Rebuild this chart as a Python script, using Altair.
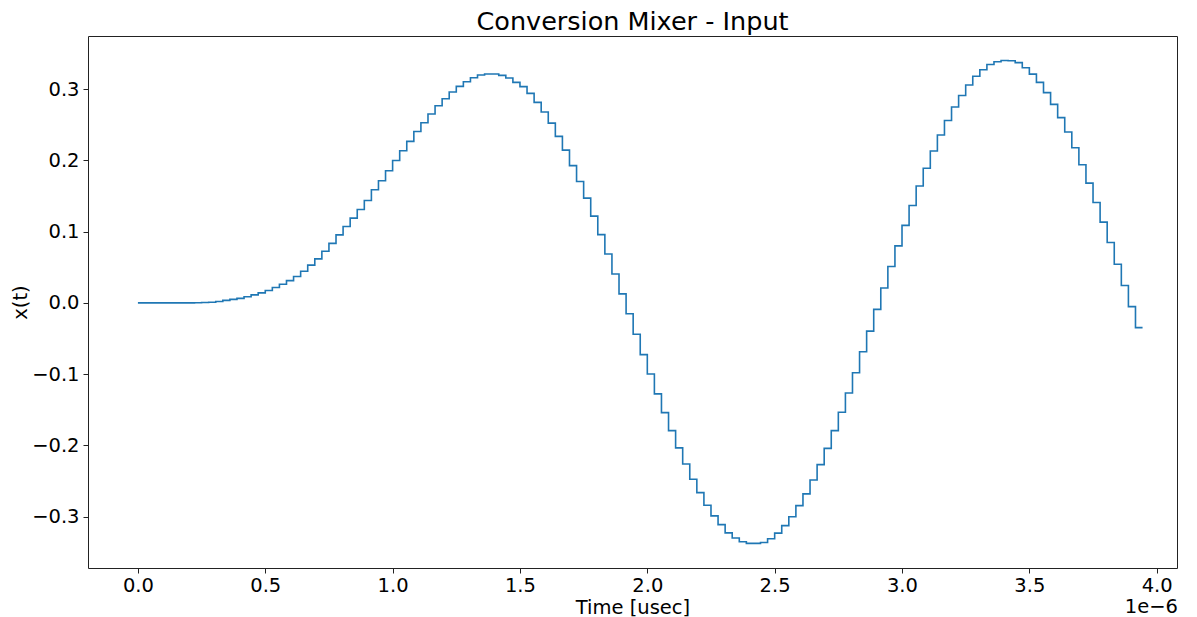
import altair as alt
import pandas as pd

DT = 0.02778

signal = [
    0.0, 0.0, 0.0, 0.0, 0.0, 0.0, 0.0, 0.0, 0.0003, 0.0005,
    0.001, 0.002, 0.0035, 0.005, 0.0064, 0.0087, 0.0113, 0.0141, 0.0173, 0.0215,
    0.0262, 0.0313, 0.037, 0.0445, 0.053, 0.0618, 0.0725, 0.0835, 0.0955, 0.1072,
    0.1189, 0.1311, 0.1437, 0.1587, 0.1713, 0.1854, 0.1999, 0.2135, 0.2266, 0.2406,
    0.2528, 0.265, 0.2767, 0.2865, 0.2959, 0.3038, 0.3104, 0.316, 0.3198, 0.3212,
    0.3212, 0.3193, 0.3156, 0.3094, 0.3034, 0.294, 0.2814, 0.2678, 0.2523, 0.2336,
    0.2144, 0.1926, 0.1704, 0.147, 0.1217, 0.0958, 0.0686, 0.0405, 0.0126, -0.0152,
    -0.044, -0.0726, -0.0997, -0.1277, -0.154, -0.1793, -0.2035, -0.226, -0.2475, -0.2662,
    -0.284, -0.2989, -0.3112, -0.3227, -0.33, -0.3352, -0.3375, -0.3375, -0.3362, -0.331,
    -0.323, -0.3125, -0.3, -0.2845, -0.268, -0.2486, -0.227, -0.2041, -0.1793, -0.1534,
    -0.1265, -0.098, -0.0686, -0.0396, -0.0091, 0.0209, 0.051, 0.08, 0.1088, 0.1367,
    0.164, 0.189, 0.2132, 0.2355, 0.256, 0.2749, 0.2911, 0.3057, 0.318, 0.3271,
    0.3345, 0.3383, 0.3402, 0.3397, 0.3372, 0.33, 0.321, 0.3094, 0.295, 0.2785,
    0.26, 0.2397, 0.2177, 0.1938, 0.168, 0.1409, 0.1133, 0.0847, 0.0543, 0.0243,
    -0.0052, -0.0347,
]

x_ticks = [0.0, 0.5, 1.0, 1.5, 2.0, 2.5, 3.0, 3.5, 4.0]
y_ticks = [-0.3, -0.2, -0.1, 0.0, 0.1, 0.2, 0.3]

title_text = "Conversion Mixer - Input"
x_title = "Time [usec]"
y_title = "x(t)"
offset_text = "1e\u22126"

# step-after line: hold the final level for one more sample period
times = [i * DT for i in range(len(signal) + 1)]
levels = signal + [signal[-1]]
df = pd.DataFrame({"t": times, "x": levels})

W, H = 1089, 532
FONT = "DejaVu Sans"
FS = 19.5

line = alt.Chart(df).mark_line(
    interpolate="step-after", color="#1f77b4", strokeWidth=1.6
).encode(
    x=alt.X(
        "t:Q",
        scale=alt.Scale(domain=[-0.196, 4.08], nice=False, zero=False),
        axis=alt.Axis(
            values=x_ticks, format=".1f", title=x_title,
            titleX=W / 2, titleY=39, titleBaseline="middle", titleAlign="center",
        ),
    ),
    y=alt.Y(
        "x:Q",
        scale=alt.Scale(domain=[-0.372, 0.3745], nice=False, zero=False),
        axis=alt.Axis(
            values=y_ticks, format=".1f", title=y_title,
            titleX=-68, titleY=H / 2, titleAngle=270,
            titleBaseline="middle", titleAlign="center",
        ),
    ),
)

offset = alt.Chart(pd.DataFrame({"s": [offset_text]})).mark_text(
    align="right", baseline="middle", fontSize=FS, font=FONT, color="black"
).encode(x=alt.value(W + 1), y=alt.value(H + 39), text="s:N")

chart = alt.layer(line, offset).properties(
    width=W,
    height=H,
    title=alt.TitleParams(
        title_text, fontSize=25.5, font=FONT, fontWeight="normal",
        color="black", anchor="middle", offset=1,
    ),
    autosize=alt.AutoSizeParams(type="none"),
    padding={"left": 88, "top": 36, "right": 20, "bottom": 49},
).configure_view(
    stroke="#222", strokeWidth=1
).configure_axis(
    grid=False, domain=False,
    tickColor="#222", tickSize=5, tickWidth=1,
    labelFont=FONT, labelFontSize=FS, labelColor="black",
    titleFont=FONT, titleFontSize=FS, titleColor="black", titleFontWeight="normal",
).configure_axisX(labelPadding=3).configure_axisY(labelPadding=4)

chart.save("out.html", embed_options={"renderer": "svg", "actions": False})
